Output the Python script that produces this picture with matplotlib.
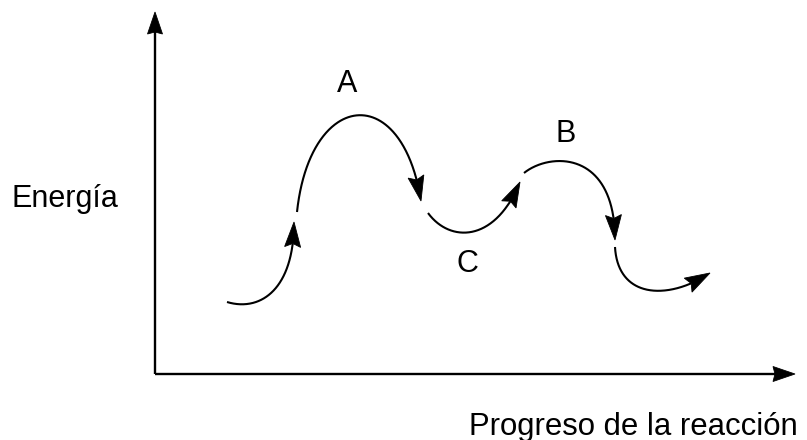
import matplotlib
matplotlib.use("Agg")
import numpy as np
import matplotlib.pyplot as plt
from matplotlib.patches import Polygon

plt.rcParams['font.family'] = ['Liberation Sans', 'DejaVu Sans']

# Diagram geometry (pixel-like coordinates, y grows downward)
origin = (155, 374)
x_axis_end = (795, 374)
y_axis_end = (155, 12)

# Cubic Bezier control points of each curved arrow segment
segments = [
    [(227, 302), (260, 312), (294, 290), (294, 222)],
    [(297, 212), (310, 90), (402, 80), (421, 201)],
    [(428, 213), (450, 243), (495, 243), (520, 182)],
    [(524, 173), (550, 152), (615, 150), (615, 240)],
    [(615, 247), (618, 300), (670, 300), (710, 273)],
]

labels = ["A", "B", "C"]
label_pos = [(347, 92), (566, 142), (467, 272)]
y_title = "Energía"
y_title_pos = (12, 207)
x_title = "Progreso de la reacción"
x_title_pos = (798, 435)

fig = plt.figure(figsize=(8.07, 4.40), dpi=100)
ax = fig.add_axes([0, 0, 1, 1])
ax.set_xlim(0, 807)
ax.set_ylim(440, 0)
ax.axis('off')


def bezier(pts, n=300):
    p = np.asarray(pts, float)
    t = np.linspace(0, 1, n)[:, None]
    return ((1 - t) ** 3 * p[0] + 3 * (1 - t) ** 2 * t * p[1]
            + 3 * (1 - t) * t ** 2 * p[2] + t ** 3 * p[3])


def arrow_line(curve, L, w, notch, lw):
    curve = np.asarray(curve, float)
    tip = curve[-1]
    d = np.hypot(*(tip - curve).T)
    idx = np.where(d >= L * 0.8)[0][-1]
    u = tip - curve[idx]
    u /= np.hypot(*u)
    nrm = np.array([-u[1], u[0]])
    back = tip - L * u
    mid = tip - (L - notch) * u
    head = [tip, back + w * nrm, mid, back - w * nrm]
    keep = np.where(d >= L - notch)[0]
    line = np.vstack([curve[keep], mid])
    ax.plot(line[:, 0], line[:, 1], color='black', lw=lw,
            solid_capstyle='butt')
    ax.add_patch(Polygon(head, closed=True, fc='black', ec='black', lw=0.6,
                         joinstyle='miter'))


for end in (x_axis_end, y_axis_end):
    line = np.linspace(origin, end, 200)
    arrow_line(line, 22, 7.5, 2, 1.7)

for seg in segments:
    arrow_line(bezier(seg), 25, 8, 3.5, 1.5)

for t, (x, y) in zip(labels, label_pos):
    ax.text(x, y, t, fontsize=22, ha='center', va='baseline')
ax.text(*y_title_pos, y_title, fontsize=22, ha='left', va='baseline')
ax.text(*x_title_pos, x_title, fontsize=22.4, ha='right', va='baseline')

fig.savefig('out.png', dpi=100)
